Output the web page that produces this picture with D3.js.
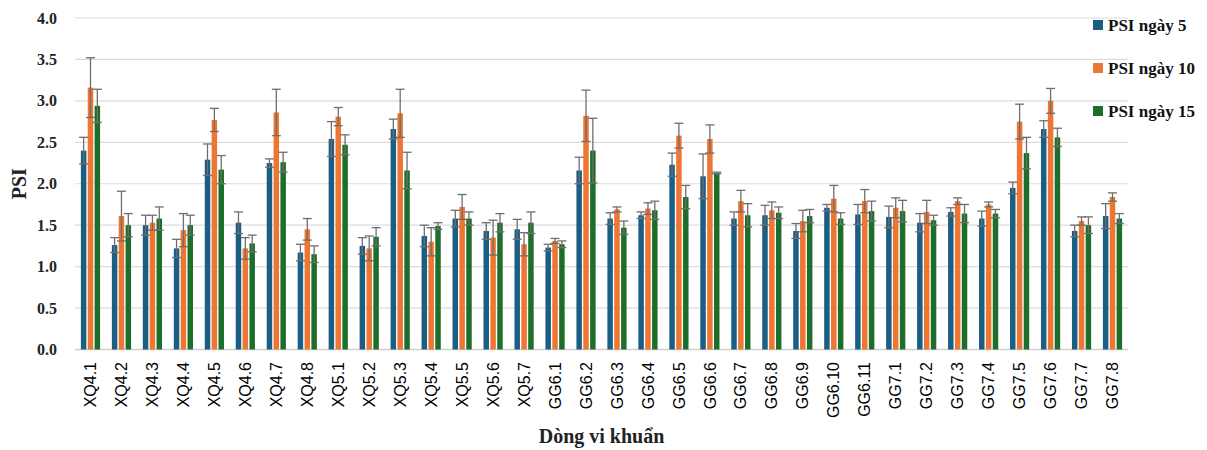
<!DOCTYPE html>
<html>
<head>
<meta charset="utf-8">
<script src="https://cdn.jsdelivr.net/npm/d3@7"></script>
<style>
  body { margin: 0; background: #fff; }
  svg { display: block; }
  .ytick text { font-family: "Liberation Serif", serif; font-weight: bold; font-size: 16px; fill: #222; }
  .xtick text { font-family: "Liberation Sans", Arial, sans-serif; font-size: 16px; fill: #000; }
  .ttl { font-family: "Liberation Serif", serif; font-weight: bold; fill: #222; }
  .leg text { font-family: "Liberation Serif", serif; font-weight: bold; font-size: 17px; fill: #111; }
</style>
</head>
<body>
<svg id="chart" width="1207" height="450"></svg>
<script>
// Strains on the x axis
const strains = [
  'XQ4.1','XQ4.2','XQ4.3','XQ4.4','XQ4.5','XQ4.6','XQ4.7','XQ4.8',
  'XQ5.1','XQ5.2','XQ5.3','XQ5.4','XQ5.5','XQ5.6','XQ5.7',
  'GG6.1','GG6.2','GG6.3','GG6.4','GG6.5','GG6.6','GG6.7','GG6.8','GG6.9','GG6.10','GG6.11',
  'GG7.1','GG7.2','GG7.3','GG7.4','GG7.5','GG7.6','GG7.7','GG7.8'
];

const seriesNames = ['PSI ngày 5', 'PSI ngày 10', 'PSI ngày 15'];
const seriesColors = ['#1b5e83', '#ed7633', '#1e6e2b'];

// Mean values
const day5 = [2.40,1.26,1.50,1.22,2.29,1.53,2.25,1.17, 2.54,1.25,2.66,1.37,1.58,1.43,1.45,
  1.23,2.16,1.58,1.62,2.23,2.09,1.58,1.62,1.43,1.71,1.63, 1.60,1.53,1.66,1.58,1.95,2.66,1.43,1.61];
const day10 = [3.16,1.61,1.53,1.44,2.77,1.22,2.86,1.45, 2.81,1.22,2.85,1.30,1.72,1.35,1.27,
  1.31,2.82,1.69,1.70,2.58,2.54,1.79,1.68,1.55,1.82,1.79, 1.71,1.66,1.79,1.75,2.75,3.00,1.55,1.84];
const day15 = [2.94,1.50,1.58,1.50,2.17,1.28,2.26,1.15, 2.47,1.36,2.16,1.49,1.58,1.53,1.53,
  1.27,2.40,1.47,1.68,1.84,2.13,1.62,1.65,1.61,1.58,1.67, 1.67,1.56,1.64,1.64,2.37,2.56,1.50,1.58];

// Error bar half-widths
const err5 = [0.16,0.09,0.12,0.11,0.19,0.13,0.05,0.10, 0.21,0.10,0.12,0.13,0.10,0.10,0.12,
  0.04,0.16,0.07,0.04,0.14,0.27,0.08,0.12,0.09,0.04,0.12, 0.13,0.11,0.05,0.09,0.07,0.10,0.07,0.15];
const err10 = [0.36,0.30,0.09,0.20,0.14,0.13,0.28,0.13, 0.11,0.15,0.29,0.17,0.15,0.21,0.14,
  0.03,0.31,0.03,0.07,0.15,0.17,0.13,0.10,0.13,0.16,0.14, 0.12,0.14,0.04,0.03,0.21,0.15,0.05,0.05];
const err15 = [0.20,0.14,0.14,0.12,0.17,0.10,0.12,0.10, 0.12,0.11,0.22,0.04,0.08,0.11,0.13,
  0.04,0.39,0.08,0.11,0.14,0.01,0.14,0.07,0.08,0.07,0.12, 0.13,0.06,0.11,0.05,0.19,0.11,0.10,0.06];

const yTicks = [0, 0.5, 1.0, 1.5, 2.0, 2.5, 3.0, 3.5, 4.0];

const means = [day5, day10, day15];
const errs = [err5, err10, err15];

const svg = d3.select('#chart');
const plotL = 75, plotR = 1128, plotT = 18, plotB = 349.5;

const x0 = d3.scaleBand().domain(strains).range([plotL, plotR])
  .paddingInner(0.38).paddingOuter(0.19);
const x1 = d3.scaleBand().domain(d3.range(3)).range([0, x0.bandwidth()]).paddingInner(0.2);
const y = d3.scaleLinear().domain([0, 4]).range([plotB, plotT]);

// Gridlines + y labels
const gy = svg.append('g').attr('class', 'ytick');
yTicks.forEach(t => {
  gy.append('line')
    .attr('x1', plotL).attr('x2', plotR)
    .attr('y1', y(t)).attr('y2', y(t))
    .attr('stroke', t === 0 ? '#cfcfcf' : '#dcdcdc')
    .attr('stroke-width', t === 0 ? 1.5 : 1.2);
  gy.append('text')
    .attr('x', 57).attr('y', y(t)).attr('dy', '0.35em')
    .attr('text-anchor', 'end')
    .text(t.toFixed(1));
});

// Bars
const gBars = svg.append('g');
strains.forEach((s, i) => {
  means.forEach((m, k) => {
    gBars.append('rect')
      .attr('x', x0(s) + x1(k))
      .attr('y', y(m[i]))
      .attr('width', x1.bandwidth())
      .attr('height', y(0) - y(m[i]))
      .attr('fill', seriesColors[k]);
  });
});

// Error bars
const gErr = svg.append('g').attr('stroke', '#6e6e6e').attr('stroke-width', 1.3);
strains.forEach((s, i) => {
  means.forEach((m, k) => {
    const cx = x0(s) + x1(k) + x1.bandwidth() / 2;
    const hi = y(m[i] + errs[k][i]), lo = y(m[i] - errs[k][i]);
    const cw = 4.5;
    gErr.append('line').attr('x1', cx).attr('x2', cx).attr('y1', hi).attr('y2', lo);
    gErr.append('line').attr('x1', cx - cw).attr('x2', cx + cw).attr('y1', hi).attr('y2', hi);
    gErr.append('line').attr('x1', cx - cw).attr('x2', cx + cw).attr('y1', lo).attr('y2', lo);
  });
});

// X labels, rotated
const gx = svg.append('g').attr('class', 'xtick');
strains.forEach(s => {
  const cx = x0(s) + x0.bandwidth() / 2;
  gx.append('text')
    .attr('transform', `translate(${cx},362) rotate(-90)`)
    .attr('dy', '0.35em')
    .attr('text-anchor', 'end')
    .text(s);
});

// Axis titles
svg.append('text').attr('class', 'ttl')
  .attr('x', (plotL + plotR) / 2).attr('y', 443)
  .attr('text-anchor', 'middle')
  .style('font-size', '20px')
  .text('Dòng vi khuẩn');

svg.append('text').attr('class', 'ttl')
  .attr('transform', `translate(26,${(plotT + plotB) / 2}) rotate(-90)`)
  .attr('text-anchor', 'middle')
  .style('font-size', '20px')
  .text('PSI');

// Legend
const gl = svg.append('g').attr('class', 'leg');
seriesNames.forEach((n, k) => {
  const ly = 25 + k * 43;
  gl.append('rect').attr('x', 1093).attr('y', ly - 5).attr('width', 10).attr('height', 10)
    .attr('fill', seriesColors[k]);
  gl.append('text').attr('x', 1108).attr('y', ly).attr('dy', '0.35em').text(n);
});
</script>
</body>
</html>
